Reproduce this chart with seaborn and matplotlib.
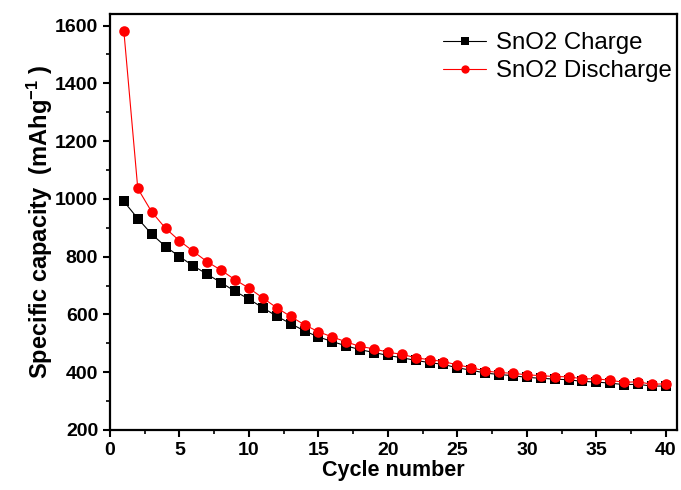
import pandas as pd
import seaborn as sns
import matplotlib.pyplot as plt

# values
cycles = list(range(1, 41))
charge = [991, 932, 878, 835, 800, 768, 739, 710, 680, 653,
          623, 594, 568, 543, 522, 506, 491, 478, 468, 458,
          450, 441, 433, 427, 415, 407, 397, 392, 388, 382,
          379, 376, 374, 368, 366, 362, 357, 358, 352, 352]
discharge = [1580, 1036, 955, 898, 855, 818, 782, 753, 720, 691,
             657, 623, 593, 564, 540, 522, 505, 489, 481, 469,
             462, 450, 443, 437, 425, 416, 404, 399, 396, 391,
             388, 385, 384, 377, 377, 372, 365, 367, 358, 360]
series_names = ["SnO2 Charge", "SnO2 Discharge"]

df = pd.concat([
    pd.DataFrame({"cycle": cycles, "capacity": charge, "series": series_names[0]}),
    pd.DataFrame({"cycle": cycles, "capacity": discharge, "series": series_names[1]}),
])

sns.set_style("ticks")
plt.rcParams["font.family"] = ["Liberation Sans", "DejaVu Sans"]
plt.rcParams["mathtext.fontset"] = "custom"
plt.rcParams["mathtext.rm"] = "Liberation Sans:bold"
plt.rcParams["mathtext.default"] = "rm"
for key in ["text.color", "axes.labelcolor", "xtick.color", "ytick.color"]:
    plt.rcParams[key] = "black"

fig = plt.figure(figsize=(6.81, 4.9), dpi=100)
ax = fig.add_axes([0.1615, 0.1225, 0.8325, 0.849])

sns.lineplot(
    data=df, x="cycle", y="capacity", hue="series", style="series",
    palette={series_names[0]: "black", series_names[1]: "#ff0000"},
    markers={series_names[0]: "s", series_names[1]: "o"},
    dashes=False, linewidth=0.8, markeredgewidth=0, ax=ax,
)
for ln, ms in zip(ax.lines, [6.8, 7.6]):
    ln.set_markersize(ms)

ax.set_xlim(0, 40.8)
ax.set_ylim(200, 1640)
ax.set_xticks(range(0, 41, 5))
ax.set_xticks([x + 2.5 for x in range(0, 40, 5)], minor=True)
ax.set_yticks(range(200, 1601, 200))
ax.set_yticks(range(300, 1600, 200), minor=True)

for s in ax.spines.values():
    s.set_linewidth(1.6)
    s.set_color("black")
ax.tick_params(which="major", length=5, width=1.5, direction="out")
ax.tick_params(which="minor", length=3, width=1.2, direction="out")
ax.tick_params(top=False, right=False, labelsize=14)
for lbl in ax.get_xticklabels() + ax.get_yticklabels():
    lbl.set_fontweight("bold")

ax.set_xlabel("Cycle number", fontsize=15.5, fontweight="bold", labelpad=1)
ax.set_ylabel("Specific capacity  (mAhg$^{-1}$ )", fontsize=17,
              fontweight="bold", labelpad=0)

leg = ax.legend(loc="upper right", bbox_to_anchor=(1.004, 0.974),
                frameon=False, fontsize=17.3,
                handlelength=1.8, handletextpad=0.4, labelspacing=0.27,
                borderaxespad=0, borderpad=0.3)
for h in leg.legend_handles:
    h.set_linewidth(0.8)

fig.savefig("out.png", dpi=100)
